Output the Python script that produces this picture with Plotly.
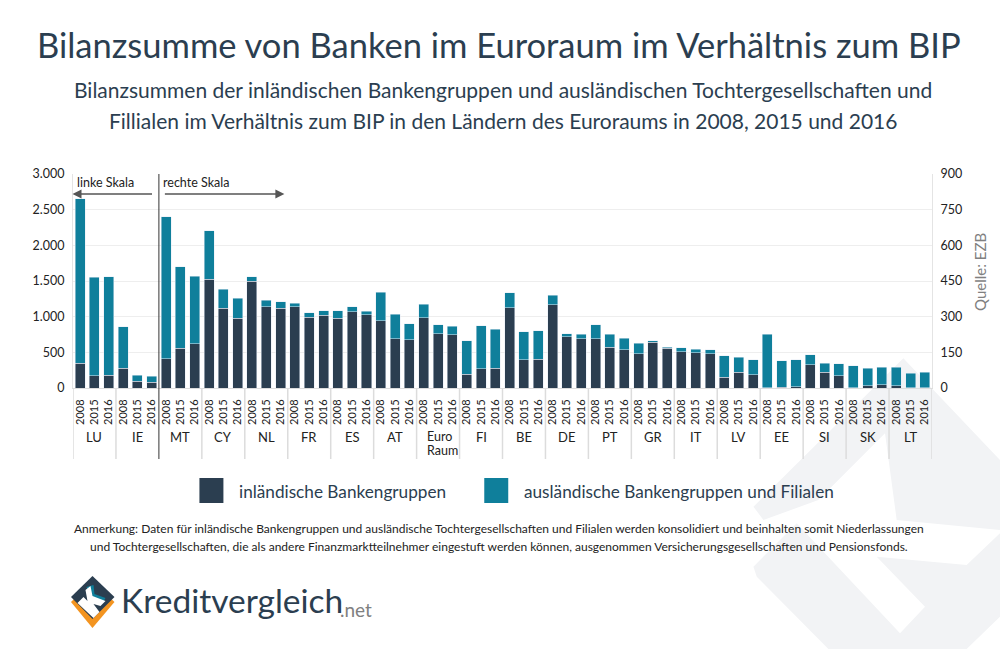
import plotly.graph_objects as go

YEARS = ["2008", "2015", "2016"]
COUNTRIES_LEFT = ["LU", "IE"]
COUNTRIES_RIGHT = ["MT", "CY", "NL", "FR", "ES", "AT", "Euro<br>Raum", "FI", "BE", "DE",
                   "PT", "GR", "IT", "LV", "EE", "SI", "SK", "LT"]

# left scale (LU, IE)
domestic_left = [346, 173, 182, 276, 93, 80]
foreign_left = [2304, 1378, 1379, 584, 89, 84]

# right scale (all others)
domestic_right = [123, 168, 186, 457, 335, 293, 449, 342, 335, 342, 297, 306, 293, 321, 308,
                  283, 207, 203, 296, 228, 224, 57, 81, 83, 338, 119, 121, 350, 216, 207,
                  207, 172, 160, 144, 192, 167, 153, 149, 144, 45, 67, 56, 2, 4, 6,
                  98, 66, 52, 1, 10, 13, 10, 1, 1]
foreign_right = [597, 341, 284, 205, 80, 84, 19, 28, 27, 15, 20, 18, 32, 20, 14,
                 119, 104, 68, 56, 37, 35, 142, 181, 165, 63, 117, 120, 41, 13, 19,
                 59, 55, 49, 45, 7, 4, 17, 15, 17, 91, 63, 62, 224, 111, 112,
                 41, 39, 49, 93, 74, 75, 78, 61, 66]

left_ticks = [0, 500, 1000, 1500, 2000, 2500, 3000]
right_ticks = [0, 150, 300, 450, 600, 750, 900]

TITLE = "Bilanzsumme von Banken im Euroraum im Verhältnis zum BIP"
SUBTITLE_1 = "Bilanzsummen der inländischen Bankengruppen und ausländischen Tochtergesellschaften und"
SUBTITLE_2 = "Fillialen im Verhältnis zum BIP in den Ländern des Euroraums in 2008, 2015 und 2016"
NOTE_1 = ("Anmerkung: Daten für inländische Bankengruppen und ausländische Tochtergesellschaften und "
          "Filialen werden konsolidiert und beinhalten somit Niederlassungen")
NOTE_2 = ("und Tochtergesellschaften, die als andere Finanzmarktteilnehmer eingestuft werden können, "
          "ausgenommen Versicherungsgesellschaften und Pensionsfonds.")
LEGEND_DOM = "inländische Bankengruppen"
LEGEND_FOR = "ausländische Bankengruppen und Filialen"

DARK = "#2b3e50"
TEAL = "#0f7f9b"
FONT = "Lato"
W, H = 1000, 649
L, R, T, B = 72.5, 932, 174, 388

def px(x, y):
    return (x - L) / (R - L), (B - y) / (B - T)

def poly(points, color, layer="below"):
    pts = [px(x, y) for x, y in points]
    d = "M " + " L ".join(f"{a:.5f},{b:.5f}" for a, b in pts) + " Z"
    return dict(type="path", path=d, xref="paper", yref="paper", fillcolor=color,
                line=dict(width=0), layer=layer)

def label(x, y, text, size, color=DARK, anchor="center", **kw):
    a, b = px(x, y)
    return dict(x=a, y=b, xref="paper", yref="paper", text=text, showarrow=False,
                xanchor=anchor, yanchor="middle",
                font=dict(family=FONT, size=size, color=color), **kw)

groups = COUNTRIES_LEFT + COUNTRIES_RIGHT
n_left = len(COUNTRIES_LEFT) * 3
xs = list(range(len(groups) * 3))
x_left, x_right = xs[:n_left], xs[n_left:]

fig = go.Figure()
fig.add_bar(x=x_left, y=domestic_left, name=LEGEND_DOM, marker_color=DARK, yaxis="y", width=0.7, showlegend=False)
fig.add_bar(x=x_left, y=foreign_left, name=LEGEND_FOR, marker_color=TEAL, yaxis="y", width=0.7, showlegend=False)
fig.add_bar(x=x_right, y=domestic_right, name=LEGEND_DOM, marker_color=DARK, yaxis="y2", width=0.7, showlegend=False)
fig.add_bar(x=x_right, y=foreign_right, name=LEGEND_FOR, marker_color=TEAL, yaxis="y2", width=0.7, showlegend=False)

shapes = []
# watermark
to_px = lambda p: (700 + p[0] / 3, 370 + p[1] / 3)
shapes.append(poly([to_px(p) for p in [(160, 410), (610, -35), (900, 270), (900, 480), (590, 450),
                                       (555, 190), (355, 390), (190, 450)]], "#f2f3f5"))
shapes.append(poly([to_px(p) for p in [(160, 590), (290, 460), (600, 790), (675, 710), (530, 560),
                                       (800, 585), (900, 490), (900, 740), (800, 837), (385, 837),
                                       (170, 620)]], "#f2f3f5"))
# group dividers
for i in range(0, len(xs) + 1, 3):
    if i == n_left:
        continue
    shapes.append(dict(type="line", x0=i - 0.5, x1=i - 0.5, xref="x", y0=px(0, 388)[1], y1=px(0, 459)[1],
                       yref="paper", line=dict(color="#dcdcdc", width=1.5)))
shapes.append(dict(type="line", x0=n_left - 0.5, x1=n_left - 0.5, xref="x", y0=px(0, 174)[1], y1=px(0, 459)[1],
                   yref="paper", line=dict(color="#333333", width=1)))
# legend squares
for x0, c in [(199, DARK), (484, TEAL)]:
    a0, b0 = px(x0, 478)
    a1, b1 = px(x0 + 24, 503)
    shapes.append(dict(type="rect", x0=a0, x1=a1, y0=b0, y1=b1, xref="paper", yref="paper",
                       fillcolor=c, line=dict(width=0)))
# logo
shapes.append(poly([(70.5, 602), (92, 581), (114, 602), (92, 628)], "#f39420", "above"))
shapes.append(poly([(70.5, 597), (92, 576), (114, 597), (92, 619)], DARK, "above"))
shapes.append(poly([(86, 587), (93, 585), (94, 594), (105, 598), (102, 603), (90, 601)], TEAL, "above"))
shapes.append(poly([(77, 603), (83, 597), (87, 601), (85, 590), (90, 586), (92, 596), (105, 601), (100, 606),
                    (93, 604), (99, 612), (93, 618)], "#ffffff", "above"))

ann = []
ann.append(label(499, 44, TITLE, 34.5))
ann.append(label(503, 90, SUBTITLE_1, 21))
ann.append(label(503, 120, SUBTITLE_2, 21))
ann.append(label(75, 182, "linke Skala", 12.5, "#222222", "left"))
ann.append(label(161, 182, "rechte Skala", 12.5, "#222222", "left"))
for tip, tail in [(72, 153), (284, 163)]:
    a, b = px(tip, 194)
    ann.append(dict(x=a, y=b, xref="paper", yref="paper", ax=tail - tip, ay=0, text="", showarrow=True,
                    arrowcolor="#555555", arrowwidth=1.5, arrowhead=2, arrowsize=1.2))
for i, g in enumerate(groups):
    if "<br>" in g:
        for k, part in enumerate(g.split("<br>")):
            ann.append(label(425, 436 + 14.5 * k, part, 12.5, "#222222", "left"))
    else:
        ann.append(dict(x=i * 3 + 1, xref="x", y=px(0, 437)[1], yref="paper", text=g, showarrow=False,
                        yanchor="middle", font=dict(family=FONT, size=13, color="#222222")))
ann.append(label(980, 272, "Quelle: EZB", 15, "#808080", textangle=-90))
ann.append(label(237, 491, LEGEND_DOM, 17.2, anchor="left"))
ann.append(label(522, 491, LEGEND_FOR, 17.2, anchor="left"))
ann.append(label(499, 528, NOTE_1, 12, "#222222"))
ann.append(label(499, 546, NOTE_2, 12, "#222222"))
ann.append(label(119, 600, "Kreditvergleich", 33.5, anchor="left"))
ann.append(label(338, 609, ".net", 19, "#808080", anchor="left"))

fig.update_layout(
    width=W, height=H, autosize=False,
    margin=dict(l=L, r=W - R, t=T, b=H - B, pad=0),
    paper_bgcolor="white", plot_bgcolor="rgba(0,0,0,0)",
    barmode="stack", bargap=0.3, separators=",.", showlegend=False,
    font=dict(family=FONT, color="#222222"),
    xaxis=dict(range=[-0.5, len(xs) - 0.5], tickmode="array", tickvals=xs, ticktext=YEARS * len(groups),
               tickangle=-90, tickfont=dict(size=11), ticks="", showgrid=False, zeroline=False,
               showline=True, linecolor="#dddddd", linewidth=1, ticklabelstandoff=6),
    yaxis=dict(range=[0, 3000], tickmode="array", tickvals=left_ticks, tickformat=",d", tickfont=dict(size=12.5),
               gridcolor="#eeeeee", gridwidth=1, zeroline=False, showline=True, linecolor="#e4e4e4", ticks="",
               ticklabelstandoff=5),
    yaxis2=dict(range=[0, 900], tickmode="array", tickvals=right_ticks, overlaying="y", side="right",
                tickfont=dict(size=12.5), showgrid=False, zeroline=False, showline=True, linecolor="#e4e4e4",
                ticks="", ticklabelstandoff=5),
    shapes=shapes, annotations=ann,
)
fig.write_html("out.html", config={"displayModeBar": False}, post_script="document.body.style.margin='0';")
